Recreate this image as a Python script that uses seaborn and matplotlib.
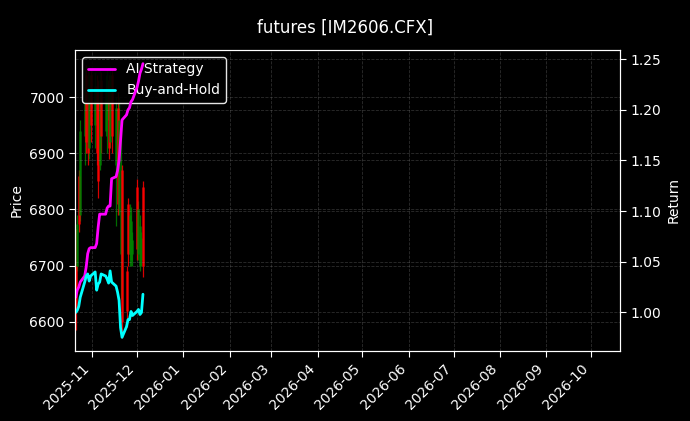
import numpy as np
import pandas as pd
import matplotlib
matplotlib.use("Agg")
import matplotlib.pyplot as plt
import matplotlib.dates as mdates
from matplotlib.lines import Line2D
import seaborn as sns

# ---- data ----
dates = pd.to_datetime([
    "2025-10-21", "2025-10-22", "2025-10-23", "2025-10-24",
    "2025-10-27", "2025-10-28", "2025-10-29", "2025-10-30", "2025-10-31",
    "2025-11-03", "2025-11-04", "2025-11-05", "2025-11-06", "2025-11-07",
    "2025-11-10", "2025-11-11", "2025-11-12", "2025-11-13", "2025-11-14",
    "2025-11-17", "2025-11-18", "2025-11-19", "2025-11-20", "2025-11-21",
    "2025-11-24", "2025-11-25", "2025-11-26", "2025-11-27", "2025-11-28",
    "2025-12-01", "2025-12-02", "2025-12-03", "2025-12-04", "2025-12-05",
])
open_ = [6700, 6700, 6860, 6790, 6930, 7040, 6990, 6910, 7040,
         6950, 7020, 6990, 6880, 7030, 6940, 6960, 7030, 6920, 7040,
         6880, 6980, 6800, 6720, 6870, 6690, 6810, 6720, 6710, 6720,
         6840, 6720, 6700, 6710, 6840]
high = [6765, 6790, 6870, 6960, 7050, 7058, 7050, 7055, 7050,
        7045, 7040, 7030, 7050, 7045, 7040, 7050, 7040, 7055, 7050,
        7000, 7010, 7000, 6950, 6880, 6700, 6820, 6810, 6805, 6760,
        6855, 6815, 6790, 6760, 6850]
low = [6585, 6690, 6760, 6780, 6880, 6900, 6880, 6890, 6920,
       6910, 6880, 6820, 6870, 6900, 6930, 6900, 6890, 6910, 6900,
       6770, 6790, 6790, 6640, 6572, 6590, 6700, 6700, 6700, 6700,
       6710, 6710, 6690, 6700, 6680]
close = [6620, 6775, 6775, 6940, 7030, 6920, 6900, 7040, 6950,
         7020, 6900, 6850, 7030, 6930, 7010, 7030, 6910, 7040, 6930,
         6980, 6810, 6960, 6800, 6600, 6620, 6720, 6790, 6780, 6745,
         6730, 6800, 6770, 6750, 6700]
ai_return = [1.015, 1.022, 1.025, 1.030, 1.036, 1.045, 1.058, 1.063, 1.064,
             1.064, 1.068, 1.084, 1.097, 1.097, 1.097, 1.103, 1.105, 1.105, 1.132,
             1.134, 1.140, 1.150, 1.170, 1.190, 1.195, 1.200, 1.202, 1.208, 1.210,
             1.222, 1.228, 1.236, 1.240, 1.2455]
bh_return = [1.000, 1.002, 1.006, 1.015, 1.030, 1.036, 1.038, 1.031, 1.036,
             1.040, 1.022, 1.028, 1.030, 1.038, 1.036, 1.033, 1.029, 1.041, 1.030,
             1.026, 1.020, 1.012, 0.985, 0.9755, 0.986, 0.993, 0.993, 1.001, 0.997,
             1.001, 1.003, 0.998, 1.000, 1.018]

df = pd.DataFrame({"date": dates, "open": open_, "high": high, "low": low,
                   "close": close, "ai": ai_return, "bh": bh_return})

# ---- style ----
sns.set_style("dark")
plt.rcParams.update({
    "figure.facecolor": "black",
    "axes.facecolor": "black",
    "axes.edgecolor": "white",
    "axes.labelcolor": "white",
    "xtick.color": "white",
    "ytick.color": "white",
    "text.color": "white",
    "font.family": ["DejaVu Sans"],
    "xtick.bottom": True,
    "ytick.left": True,
})

fig = plt.figure(figsize=(6.9, 4.21), dpi=100)
ax = fig.add_axes([0.1087, 0.1663, 0.79, 0.715])
ax2 = ax.twinx()

# candles
up = df["close"] >= df["open"]
colors = np.where(up, "green", "red")
ax.vlines(df["date"], df["low"], df["high"], colors=colors, linewidth=0.9, alpha=0.85, zorder=2)
ax.vlines(df["date"], df["open"], df["close"], colors=colors, linewidth=1.8, alpha=0.85, zorder=2)

# return lines
sns.lineplot(data=df, x="date", y="ai", ax=ax2, color="magenta", linewidth=2, legend=False)
sns.lineplot(data=df, x="date", y="bh", ax=ax2, color="cyan", linewidth=2, legend=False)

ax.set_xlim(pd.Timestamp("2025-10-20 12:00"), pd.Timestamp("2026-10-20 12:00"))
ax.set_ylim(6548, 7084)
ax2.set_ylim(0.962, 1.259)

ax.xaxis.set_major_locator(mdates.MonthLocator())
ax.xaxis.set_major_formatter(mdates.DateFormatter("%Y-%m"))
for lab in ax.get_xticklabels():
    lab.set_rotation(45)
    lab.set_ha("right")

ax.set_ylabel("Price", color="white", fontsize=10)
ax2.set_ylabel("Return", color="white", fontsize=10)
ax.set_xlabel("")
ax2.set_xlabel("")
ax.tick_params(colors="white", labelsize=10, length=4)
ax2.tick_params(colors="white", labelsize=10, length=4, right=True)
for sp in ax.spines.values():
    sp.set_color("white")
for sp in ax2.spines.values():
    sp.set_color("white")

ax.grid(True, linestyle="--", color="gray", alpha=0.35, linewidth=0.6)
ax2.grid(True, axis="y", linestyle="--", color="gray", alpha=0.35, linewidth=0.6)
ax2.grid(False, axis="x")

handles = [Line2D([0], [0], color="magenta", lw=2), Line2D([0], [0], color="cyan", lw=2)]
leg = ax.legend(handles, ["AI Strategy", "Buy-and-Hold"], loc="upper left",
                facecolor="black", edgecolor="white", framealpha=0.9, fontsize=10)
for t in leg.get_texts():
    t.set_color("white")

fig.suptitle("futures [IM2606.CFX]", color="white", fontsize=12, y=0.955)

fig.savefig("out.png", dpi=100, facecolor="black")
